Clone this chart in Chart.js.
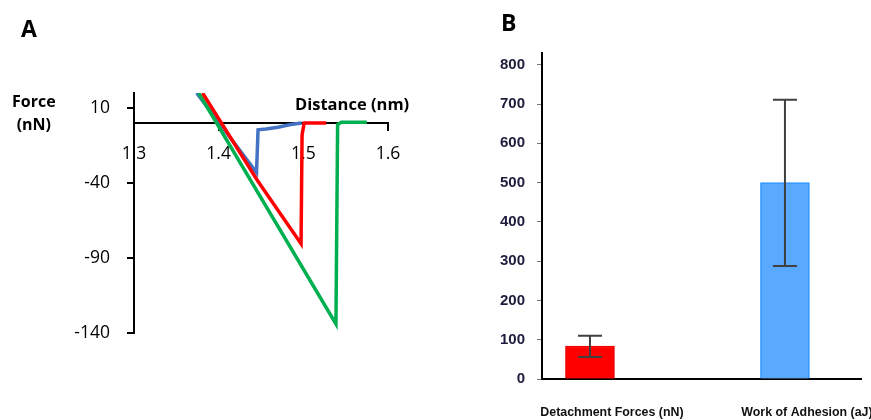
<!DOCTYPE html>
<html>
<head>
<meta charset="utf-8">
<script src="https://cdn.jsdelivr.net/npm/chart.js@4"></script>
<style>
  body { margin: 0; background: #fff; width: 871px; height: 420px; position: relative; overflow: hidden; }
  canvas { position: absolute; top: 0; }
  #chartA { left: 0; }
  #chartB { left: 470px; }
  .lbl { position: absolute; font-family: 'Open Sans', sans-serif; font-weight: bold; color: #000; line-height: 1; white-space: nowrap; }
</style>
</head>
<body>
<canvas id="chartA" width="440" height="420"></canvas>
<canvas id="chartB" width="401" height="420"></canvas>
<div class="lbl" style="left:21px;top:17px;font-size:23px;">A</div>
<div class="lbl" style="left:501px;top:11px;font-size:23px;">B</div>
<div class="lbl" style="left:12px;top:90px;font-size:16px;text-align:center;line-height:23px;">Force<br>(nN)</div>
<div class="lbl" style="left:295px;top:96px;font-size:16.5px;">Distance (nm)</div>
<script>
// A: 力-距離カーブ（読み取り値）
const blueDist  = [1.374, 1.4447, 1.4465, 1.456, 1.47, 1.485, 1.498];
const blueForce = [20, -33, -4.5, -4, -2.8, -1, 0];
const redDist   = [1.381, 1.446, 1.4973, 1.4985, 1.501, 1.527];
const redForce  = [20, -38.5, -80.5, -8, 0, 0];
const greenDist  = [1.3765, 1.5385, 1.5405, 1.545, 1.575];
const greenForce = [20, -134, -1, 0.5, 0.5];
const distTicks  = [1.3, 1.4, 1.5, 1.6];
const forceTicks = [-140, -90, -40, 10];

// B: 棒グラフ
const categories = ['Detachment Forces (nN)', 'Work of Adhesion (aJ)'];
const meanValues = [84, 500];
const errHigh    = [110, 711];
const errLow     = [56, 288];
const barColors  = ['#ff0000', '#59a9ff'];
const barBorders = ['#f00000', '#2f95ff'];
const adhTicks   = [0, 100, 200, 300, 400, 500, 600, 700, 800];

const toPts = (xs, ys) => xs.map((x, i) => ({ x: x, y: ys[i] }));
const calibri = "'Open Sans', sans-serif";

new Chart(document.getElementById('chartA'), {
  type: 'line',
  data: {
    datasets: [
      { data: toPts(blueDist, blueForce), borderColor: '#4472c4', order: 3 },
      { data: toPts(greenDist, greenForce), borderColor: '#00b050', order: 2 },
      { data: toPts(redDist, redForce), borderColor: '#ff0000', order: 1 }
    ]
  },
  options: {
    responsive: false,
    devicePixelRatio: 1,
    animation: false,
    layout: { padding: { left: 0, top: 93, right: 52, bottom: 87 } },
    elements: {
      line: { borderWidth: 3.5, tension: 0 },
      point: { radius: 0 }
    },
    plugins: { legend: { display: false }, tooltip: { enabled: false } },
    scales: {
      x: {
        type: 'linear',
        min: 1.3,
        max: 1.6,
        position: { y: 0 },
        afterBuildTicks: (s) => { s.ticks = distTicks.map(v => ({ value: v })); },
        ticks: {
          callback: (v) => v.toFixed(1),
          font: { family: calibri, size: 17.5 },
          color: '#000',
          padding: 14,
          maxRotation: 0,
          autoSkip: false
        },
        border: { color: '#000', width: 2 },
        grid: { drawOnChartArea: false, color: '#000', lineWidth: 2, tickLength: 7 }
      },
      y: {
        min: -140,
        max: 20,
        afterBuildTicks: (s) => { s.ticks = forceTicks.map(v => ({ value: v })); },
        afterFit: (s) => { s.width = 134; },
        ticks: {
          font: { family: calibri, size: 17.5 },
          color: '#000',
          padding: 17
        },
        border: { color: '#000', width: 2 },
        grid: { drawOnChartArea: false, color: '#000', lineWidth: 2, tickLength: 7 }
      }
    }
  }
});

// エラーバー描画
const errorBars = {
  id: 'errorBars',
  afterDatasetsDraw(chart) {
    const { ctx, scales: { x, y } } = chart;
    ctx.save();
    ctx.strokeStyle = '#404040';
    ctx.lineWidth = 2;
    meanValues.forEach((_, i) => {
      const px = x.getPixelForValue(i);
      const top = y.getPixelForValue(errHigh[i]);
      const bot = y.getPixelForValue(errLow[i]);
      ctx.beginPath();
      ctx.moveTo(px, top); ctx.lineTo(px, bot);
      ctx.moveTo(px - 12, top); ctx.lineTo(px + 12, top);
      ctx.moveTo(px - 12, bot); ctx.lineTo(px + 12, bot);
      ctx.stroke();
    });
    ctx.restore();
  }
};

new Chart(document.getElementById('chartB'), {
  type: 'bar',
  data: {
    datasets: [{
      data: meanValues.map((v, i) => ({ x: i, y: v })),
      backgroundColor: barColors,
      borderColor: barBorders,
      borderWidth: 1.5,
      barThickness: 49
    }]
  },
  options: {
    responsive: false,
    devicePixelRatio: 1,
    animation: false,
    layout: { padding: { left: 0, top: 53, right: 10, bottom: 0 } },
    plugins: { legend: { display: false }, tooltip: { enabled: false } },
    scales: {
      x: {
        type: 'linear',
        offset: false,
        min: -0.246,
        max: 1.39,
        afterBuildTicks: (s) => { s.ticks = categories.map((_, i) => ({ value: i })); },
        afterFit: (s) => { s.height = 41; s.paddingLeft = 0; s.paddingRight = 0; },
        ticks: {
          callback: (v) => categories[v],
          font: { family: 'Liberation Sans', size: 12.4, weight: 'bold' },
          color: '#111',
          padding: 26,
          labelOffset: 22,
          maxRotation: 0,
          minRotation: 0,
          autoSkip: false
        },
        border: { color: '#000', width: 2 },
        grid: { display: false, drawTicks: false, offset: false }
      },
      y: {
        min: 0,
        max: 830,
        afterBuildTicks: (s) => { s.ticks = adhTicks.map(v => ({ value: v })); },
        afterFit: (s) => { s.width = 72; },
        ticks: {
          font: { family: 'Liberation Sans', size: 15, weight: 'bold' },
          color: '#1c1c3c',
          padding: 12
        },
        border: { color: '#000', width: 2 },
        grid: { drawOnChartArea: false, color: '#777', lineWidth: 1, tickLength: 5 }
      }
    }
  },
  plugins: [errorBars]
});
</script>
</body>
</html>
